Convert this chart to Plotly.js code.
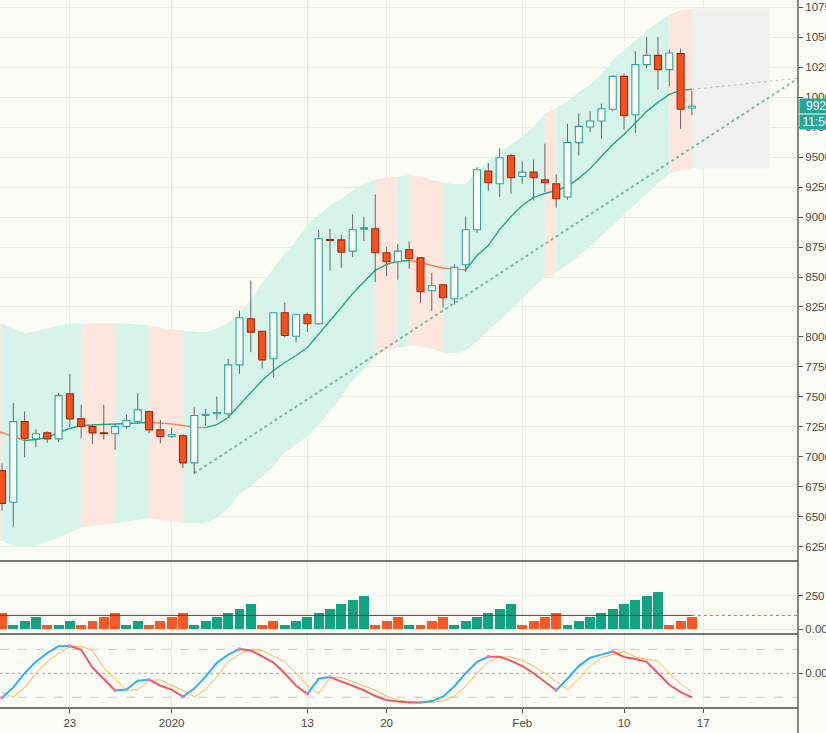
<!DOCTYPE html>
<html><head><meta charset="utf-8">
<script src="https://cdn.plot.ly/plotly-3.0.1.min.js"></script>
<style>html,body{margin:0;padding:0;background:#fcfcf7;overflow:hidden}#chart{width:826px;height:733px}</style>
</head><body><div id="chart"></div>
<script>
// ---- categories ----
const dates = ['2019-12-17','2019-12-18','2019-12-19','2019-12-20','2019-12-21','2019-12-22','2019-12-23','2019-12-24','2019-12-25','2019-12-26','2019-12-27','2019-12-28','2019-12-29','2019-12-30','2019-12-31',
'2020-01-01','2020-01-02','2020-01-03','2020-01-04','2020-01-05','2020-01-06','2020-01-07','2020-01-08','2020-01-09','2020-01-10','2020-01-11','2020-01-12','2020-01-13','2020-01-14','2020-01-15','2020-01-16','2020-01-17','2020-01-18','2020-01-19','2020-01-20','2020-01-21','2020-01-22','2020-01-23','2020-01-24','2020-01-25','2020-01-26','2020-01-27','2020-01-28','2020-01-29','2020-01-30','2020-01-31',
'2020-02-01','2020-02-02','2020-02-03','2020-02-04','2020-02-05','2020-02-06','2020-02-07','2020-02-08','2020-02-09','2020-02-10','2020-02-11','2020-02-12','2020-02-13','2020-02-14','2020-02-15','2020-02-16'];
const tickDates = ['2019-12-23','2020-01-01','2020-01-13','2020-01-20','2020-02-01','2020-02-10','2020-02-17'];
const tickLabels = ['23','2020','13','20','Feb','10','17'];

// ---- price series ----
const open  = [6885,6621,7294,7150,7200,7150,7525,7317,7253,7200,7192,7253,7297,7378,7225,7169,7175,6950,7345,7360,7360,7767,8152,8048,7818,8202,8006,8185,8110,8813,8810,8716,8900,8903,8702,8627,8728,8660,8385,8435,8319,8602,8894,9384,9278,9512,9339,9375,9311,9278,9167,9621,9751,9801,9899,10174,9854,10272,10349,10230,10364,9910];
const high  = [6944,7450,7378,7228,7210,7534,7692,7434,7267,7434,7275,7353,7531,7386,7308,7242,7192,7414,7400,7503,7818,8221,8471,8048,8202,8285,8193,8202,8894,8903,8855,9022,9000,9189,8749,8777,8797,8665,8536,8440,8605,9006,9417,9450,9576,9529,9462,9479,9612,9356,9779,9863,9882,9946,10182,10202,10383,10502,10502,10397,10405,10057];
const low   = [6552,6420,6996,7080,7117,7122,7247,7155,7108,7144,7058,7233,7275,7197,7113,7158,6905,6858,7261,7311,7340,7692,7873,7739,7664,7998,7956,8040,8100,8555,8577,8666,8800,8457,8507,8477,8569,8282,8215,8243,8271,8541,8870,9217,9167,9195,9278,9139,9208,9078,9145,9515,9709,9654,9884,9729,9701,10243,10063,10093,9737,9849];
const close = [6612,7294,7155,7192,7150,7511,7317,7253,7200,7192,7253,7303,7392,7225,7169,7186,6950,7345,7355,7370,7767,8160,8040,7809,8202,8012,8185,8110,8819,8805,8708,8894,8910,8702,8627,8716,8652,8377,8427,8327,8582,8894,9395,9287,9495,9328,9375,9328,9287,9153,9621,9757,9801,9904,10174,9846,10272,10349,10230,10369,9899,9925];

// ---- band (starts one day before the first candle) ----
const bandStart = '2019-12-16';
const bandUpper = [8129,8112,8071,8029,8046,8071,8096,8112,8112,8112,8112,8112,8112,8104,8096,8079,8062,8054,8046,8037,8071,8121,8204,8313,8446,8571,8697,8805,8939,9014,9097,9156,9222,9273,9314,9331,9339,9348,9339,9314,9289,9273,9281,9373,9473,9540,9606,9673,9757,9865,9907,9965,10041,10107,10191,10308,10391,10475,10550,10625,10683,10725,10742];
const bandBasis = [7215,7203,7169,7136,7144,7161,7203,7236,7261,7266,7270,7274,7278,7282,7286,7280,7275,7261,7247,7244,7269,7328,7428,7536,7637,7720,7787,7845,7912,8021,8137,8246,8363,8463,8555,8605,8630,8638,8622,8596,8575,8566,8560,8680,8763,8897,9005,9097,9164,9197,9222,9256,9323,9406,9506,9606,9690,9782,9882,9957,10024,10057,10066];
const bandLower = [6318,6301,6259,6243,6259,6293,6326,6368,6410,6426,6435,6443,6460,6476,6485,6476,6460,6451,6443,6451,6493,6568,6693,6752,6835,6919,7036,7102,7169,7269,7378,7503,7637,7737,7829,7887,7912,7929,7920,7904,7870,7862,7887,7962,8054,8137,8229,8321,8413,8496,8538,8605,8680,8755,8839,8930,9022,9114,9197,9281,9364,9389,9406];
const bandTone = ('D'+'UUUUUUU'+'DDD'+'UUU'+'DDD'+'UUUUUUUUUUUUUUUUU'+'DD'+'U'+'DDD'+'UUUUUUUUU'+'D'+'UUUUUUUUUU'+'DD').split('');
const projectionEnd = '2020-02-22 21:30';

// ---- drawn lines ----
const trendDates = ['2020-01-03','2020-02-27'];
const trendPrices = [6863, 10257];
const basisProjDates = ['2020-02-16','2020-02-27'];
const basisProjPrices = [10066, 10174];

// ---- volume pane ----
const volume = [125,31,63,94,31,31,63,31,63,94,125,31,63,31,63,94,125,31,63,94,125,156,188,31,63,31,63,94,125,156,188,219,250,31,63,94,31,31,63,94,31,63,94,125,156,188,31,63,94,125,31,63,94,125,156,188,219,250,281,31,63,94];
const volumeDir = ('D'+'UUU'+'D'+'UU'+'DDDD'+'UU'+'DDDD'+'UUUUUU'+'DD'+'UUUUUUUU'+'DDD'+'U'+'DDD'+'UUUUUU'+'DDDD'+'UUUUUUUUU'+'DDD').split('');
const volumeAvgDates = ['2019-12-16','2020-02-16'];
const volumeAvg = [105, 105];
const volumeAvgExtEnd = '2020-02-27';

// ---- oscillator pane ----
const oscK = [-1.02,-0.59,0,0.48,0.84,1.13,1.14,0.98,0.24,-0.23,-0.72,-0.68,-0.31,-0.27,-0.52,-0.68,-0.98,-0.64,-0.14,0.44,0.78,1.01,0.95,0.71,0.45,0,-0.52,-0.86,-0.23,-0.16,-0.34,-0.52,-0.71,-0.95,-1.12,-1.18,-1.22,-1.22,-1.16,-0.98,-0.54,0,0.48,0.69,0.69,0.52,0.30,0,-0.34,-0.71,-0.23,0.30,0.65,0.78,0.91,0.68,0.60,0.48,0,-0.48,-0.79,-1.01];
const oscD = [-0.82,-0.99,-0.59,0,0.48,0.82,1.12,1.13,0.95,0.23,-0.24,-0.71,-0.68,-0.30,-0.27,-0.52,-0.71,-0.98,-0.68,-0.14,0.48,0.79,0.98,0.95,0.71,0.48,0,-0.52,-0.84,-0.20,-0.16,-0.34,-0.52,-0.71,-0.95,-1.12,-1.18,-1.22,-1.22,-1.16,-0.95,-0.54,0,0.48,0.68,0.68,0.54,0.30,0,-0.34,-0.68,-0.23,0.30,0.65,0.78,0.91,0.68,0.60,0.50,0,-0.44,-0.78];
const oscLevels = [1, 0, -1];
const countdownText = '11:56';

// ---- styling ----
const BG = '#fcfcf7';
const TEAL = '#26a69a', RED_FILL = '#f4511e', RED_LINE = '#a3290d';
const BAND_UP = '#d7f4ea', BAND_DN = '#fde6dd';
const DAY = 86400000, BODY_HALF = 0.31 * DAY;
const traces = [];
const bandDates = [bandStart].concat(dates);
const ms = d => Date.parse(d + 'T00:00:00Z');

// band fills, one polygon per run of equal tone
for (let k = 0; k < bandTone.length;) {
  let j = k;
  while (j + 1 < bandTone.length && bandTone[j + 1] === bandTone[k]) j++;
  const xs = [], ys = [];
  for (let p = k; p <= j + 1; p++) { xs.push(bandDates[p]); ys.push(bandUpper[p]); }
  for (let p = j + 1; p >= k; p--) { xs.push(bandDates[p]); ys.push(bandLower[p]); }
  traces.push({type:'scatter', mode:'lines', x:xs, y:ys, fill:'toself',
    fillcolor: bandTone[k] === 'U' ? BAND_UP : BAND_DN, line:{width:0, color:'rgba(0,0,0,0)'},
    hoverinfo:'skip', xaxis:'x', yaxis:'y'});
  k = j + 1;
}
// projection box
const nB = bandDates.length - 1;
traces.push({type:'scatter', mode:'lines', x:[bandDates[nB], projectionEnd, projectionEnd, bandDates[nB]],
  y:[bandUpper[nB], bandUpper[nB], bandLower[nB], bandLower[nB]], fill:'toself', fillcolor:'#f0f0ee',
  line:{width:0, color:'rgba(0,0,0,0)'}, hoverinfo:'skip', xaxis:'x', yaxis:'y'});

// basis line, coloured by direction
for (let k = 0; k < bandBasis.length - 1;) {
  const up = bandBasis[k + 1] > bandBasis[k];
  let j = k;
  while (j + 1 < bandBasis.length - 1 && (bandBasis[j + 2] > bandBasis[j + 1]) === up) j++;
  traces.push({type:'scatter', mode:'lines', x:bandDates.slice(k, j + 2), y:bandBasis.slice(k, j + 2),
    line:{color: up ? '#22a88f' : '#f2835a', width:1.4}, hoverinfo:'skip', xaxis:'x', yaxis:'y'});
  k = j + 1;
}
traces.push({type:'scatter', mode:'lines', x:basisProjDates, y:basisProjPrices,
  line:{color:'#c4c4c4', width:1.2, dash:'dot'}, hoverinfo:'skip', xaxis:'x', yaxis:'y'});
traces.push({type:'scatter', mode:'lines', x:trendDates, y:trendPrices,
  line:{color:'rgba(95,165,145,0.75)', width:2, dash:'dot'}, hoverinfo:'skip', xaxis:'x', yaxis:'y'});

// candles drawn as scatter paths so they sit above the band fills
const wx = [], wy = [];
const ux = [], uy = [], dx = [], dy = [];
dates.forEach((d, i) => {
  const t = ms(d);
  wx.push(t, t, null); wy.push(low[i], high[i], null);
  const hi = Math.max(open[i], close[i]), lo = Math.min(open[i], close[i]);
  const X = close[i] >= open[i] ? ux : dx, Y = close[i] >= open[i] ? uy : dy;
  X.push(t - BODY_HALF, t + BODY_HALF, t + BODY_HALF, t - BODY_HALF, t - BODY_HALF, null);
  Y.push(lo, lo, hi, hi, lo, null);
});
traces.push({type:'scatter', mode:'lines', x:wx, y:wy, line:{color:'#666666', width:1},
  hoverinfo:'skip', xaxis:'x', yaxis:'y'});
traces.push({type:'scatter', mode:'lines', x:ux, y:uy, fill:'toself', fillcolor:BG,
  line:{color:TEAL, width:1.1}, hoverinfo:'skip', xaxis:'x', yaxis:'y'});
traces.push({type:'scatter', mode:'lines', x:dx, y:dy, fill:'toself', fillcolor:RED_FILL,
  line:{color:RED_LINE, width:1.1}, hoverinfo:'skip', xaxis:'x', yaxis:'y'});

// volume
traces.push({type:'bar', x:dates, y:volume, width:0.88*DAY,
  marker:{color: volumeDir.map(d => d === 'U' ? '#12a383' : '#fa5726'), line:{width:0}},
  hoverinfo:'skip', xaxis:'x', yaxis:'y2'});
traces.push({type:'scatter', mode:'lines', x:volumeAvgDates, y:volumeAvg,
  line:{color:'#8f2d12', width:1}, hoverinfo:'skip', xaxis:'x', yaxis:'y2'});
traces.push({type:'scatter', mode:'lines', x:[volumeAvgDates[1], volumeAvgExtEnd], y:[volumeAvg[1], volumeAvg[1]],
  line:{color:'#e8602c', width:1, dash:'dot'}, hoverinfo:'skip', xaxis:'x', yaxis:'y2'});

// oscillator
traces.push({type:'scatter', mode:'lines', x:dates, y:oscD, line:{color:'#fbb54c', width:1},
  hoverinfo:'skip', xaxis:'x', yaxis:'y3'});
const turnX = [], turnY = [];
for (let k = 0; k < oscK.length - 1;) {
  const up = oscK[k + 1] > oscK[k];
  let j = k;
  while (j + 1 < oscK.length - 1 && (oscK[j + 2] > oscK[j + 1]) === up) j++;
  traces.push({type:'scatter', mode:'lines', x:dates.slice(k, j + 2), y:oscK.slice(k, j + 2),
    line:{color: up ? '#2eb2ee' : '#ec5a62', width:2}, hoverinfo:'skip', xaxis:'x', yaxis:'y3'});
  turnX.push(dates[k]); turnY.push(oscK[k]);
  k = j + 1;
}
traces.push({type:'scatter', mode:'markers', x:turnX, y:turnY, marker:{color:'#e07ad0', size:3.5},
  hoverinfo:'skip', xaxis:'x', yaxis:'y3'});

// ---- layout ----
const H = 708; // plot-area height in px
const yMainBottom = (H - 561) / H, yVolBottom = (H - 634) / H;
const shapes = [];
oscLevels.forEach(v => shapes.push({type:'line', xref:'paper', x0:0, x1:1, yref:'y3', y0:v, y1:v,
  line:{color: v === 0 ? '#a5a5a5' : '#cacaca', width:1, dash: v === 0 ? 'dot' : 'dash'}, layer:'below'}));
[yMainBottom, yVolBottom, 0].forEach(y => shapes.push({type:'line', xref:'paper', x0:0, x1:1, yref:'paper', y0:y, y1:y,
  line:{color:'#4a4a4a', width:1.3}}));
shapes.push({type:'line', xref:'paper', x0:1, x1:1, yref:'paper', y0:-0.04, y1:1, line:{color:'#4a4a4a', width:1.3}});

const axisFont = {family:'Liberation Sans, Arial, sans-serif', size:11.5, color:'#4a4a4a'};
const labelFont = {family:'Liberation Sans, Arial, sans-serif', size:12, color:'#ffffff'};
const lastClose = close[close.length - 1];
const layout = {
  width:826, height:733,
  margin:{l:0, r:28, t:0, b:25, pad:0},
  paper_bgcolor:BG, plot_bgcolor:BG,
  showlegend:false, hovermode:false, bargap:0,
  font:axisFont,
  xaxis:{type:'date', range:['2019-12-16 19:45','2020-02-25 09:07'], anchor:'y3',
    tickmode:'array', tickvals:tickDates, ticktext:tickLabels,
    ticks:'outside', ticklen:4, tickcolor:'#555', showgrid:true, gridcolor:'#ececE6',
    showline:false, zeroline:false, tickfont:axisFont},
  yaxis:{domain:[yMainBottom, 1], range:[6131, 10811], side:'right', anchor:'x',
    tick0:0, dtick:250, tickformat:'d', ticks:'outside', ticklen:4, tickcolor:'#555',
    showgrid:true, gridcolor:'#ececE6', zeroline:false, showline:false, tickfont:axisFont},
  yaxis2:{domain:[yVolBottom, yMainBottom], range:[-34, 511], side:'right', anchor:'x',
    tickmode:'array', tickvals:[0, 250], ticktext:['0.00','250'], ticks:'outside', ticklen:4, tickcolor:'#555',
    showgrid:true, gridcolor:'#ececE6', zeroline:false, showline:false, tickfont:axisFont},
  yaxis3:{domain:[0, yVolBottom], range:[-1.45, 1.64], side:'right', anchor:'x',
    tickmode:'array', tickvals:[0], ticktext:['0.00'], ticks:'outside', ticklen:4, tickcolor:'#555',
    showgrid:false, zeroline:false, showline:false, tickfont:axisFont},
  shapes:shapes,
  annotations:[
    {xref:'paper', yref:'y', x:1, y:lastClose, xanchor:'left', yanchor:'middle', xshift:1,
     text:'\u2002' + String(lastClose), showarrow:false, bgcolor:TEAL, borderpad:0, font:labelFont},
    {xref:'paper', yref:'y', x:1, y:lastClose, xanchor:'left', yanchor:'middle', xshift:1, yshift:-16,
     text:'\u2009' + countdownText, showarrow:false, bgcolor:TEAL, borderpad:0, font:labelFont}
  ]
};
Plotly.newPlot('chart', traces, layout, {displayModeBar:false, staticPlot:true});
</script></body></html>
